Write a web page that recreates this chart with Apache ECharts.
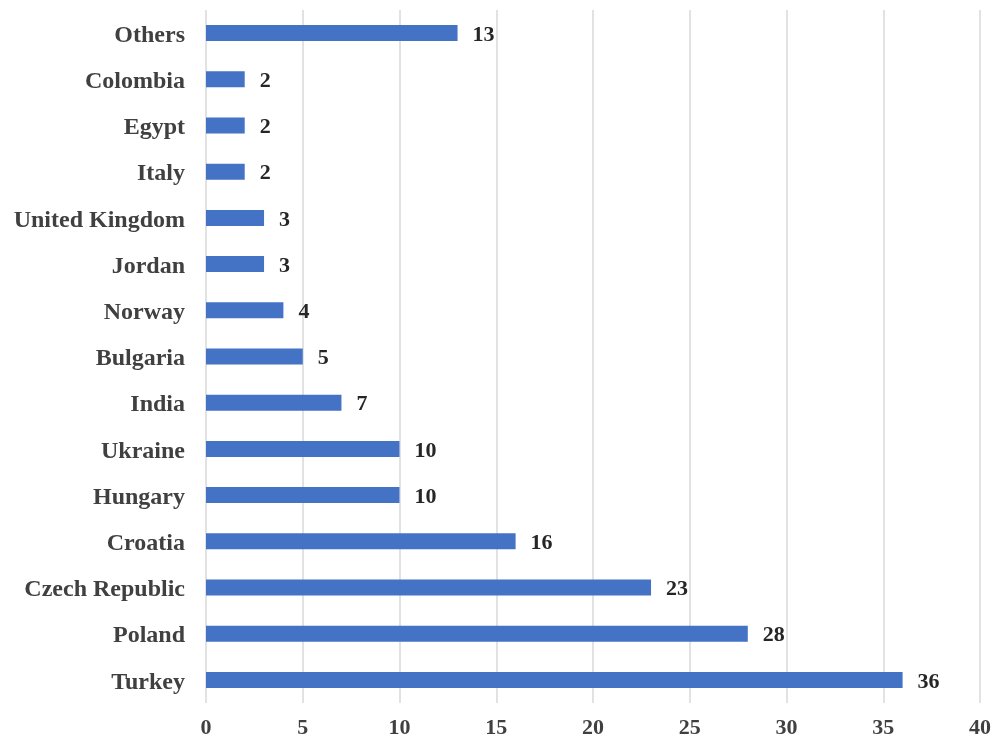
<!DOCTYPE html>
<html><head><meta charset="utf-8">
<script src="https://cdn.jsdelivr.net/npm/echarts@6/dist/echarts.min.js"></script>
<style>html,body{margin:0;padding:0;background:#fff}#c{width:1005px;height:739px}</style>
</head><body><div id="c"></div>
<script>
const categories = ["Turkey","Poland","Czech Republic","Croatia","Hungary","Ukraine","India","Bulgaria","Norway","Jordan","United Kingdom","Italy","Egypt","Colombia","Others"];
const values = [36,28,23,16,10,10,7,5,4,3,3,2,2,2,13];
const xTicks = {min:0, max:40, interval:5};
const font = '"Liberation Serif","Times New Roman",serif';
const chart = echarts.init(document.getElementById('c'));
chart.setOption({
  animation:false,
  grid:{left:206,right:25,top:10,bottom:34,containLabel:false},
  xAxis:{type:'value',min:xTicks.min,max:xTicks.max,interval:xTicks.interval,
    axisLine:{show:false},axisTick:{show:false},
    splitLine:{lineStyle:{color:'#d9d9d9',width:1.5}},
    axisLabel:{margin:14,color:'#404040',fontFamily:font,fontWeight:'bold',fontSize:22}},
  yAxis:{type:'category',data:categories,
    axisLine:{show:false},axisTick:{show:false},
    axisLabel:{margin:21,formatter:'{a|{value}}',
      rich:{a:{color:'#404040',fontFamily:font,fontWeight:'bold',fontSize:24,padding:[5,0,0,0]}}}},
  series:[{type:'bar',data:values,barWidth:16,itemStyle:{color:'#4472C4'},
    label:{show:true,position:'right',distance:15,offset:[0,2],color:'#262626',fontFamily:font,fontWeight:'bold',fontSize:22}}]
});
</script></body></html>
